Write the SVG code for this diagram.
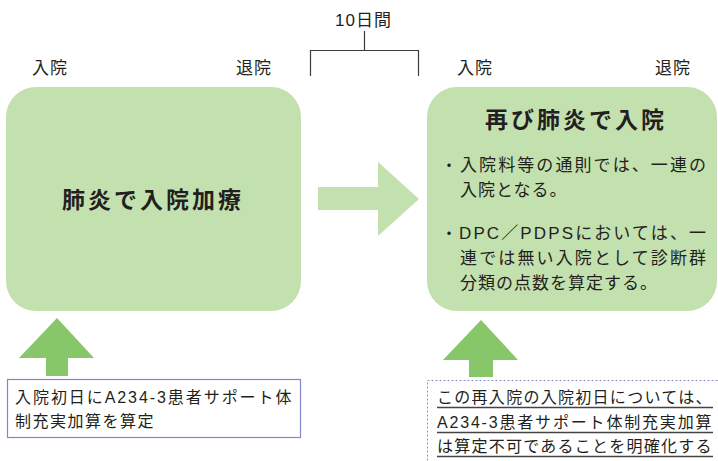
<svg xmlns="http://www.w3.org/2000/svg" width="718" height="461" viewBox="0 0 718 461">
<style>
text{font-family:"Liberation Sans","Noto Sans CJK JP",sans-serif;fill:#231f20}
.lbl{font-size:17px;letter-spacing:1px}
.ttl{font-size:23px;font-weight:bold;letter-spacing:3px}
.body{font-size:17px;letter-spacing:1px}
.bul{font-size:16px}
.note{font-size:16px;letter-spacing:1.5px}
.box{fill:#c3e0af}
.up{fill:#88c66a}
</style>
<rect width="718" height="461" fill="#fff"/>
<g id="labels">
<text class="lbl" x="32" y="74">入院</text>
<text class="lbl" x="236" y="74">退院</text>
<text class="lbl" x="457" y="74">入院</text>
<text class="lbl" x="655" y="74">退院</text>
<text class="lbl" x="335" y="26">10日間</text>
</g>
<g id="connectors" fill="none" stroke="#3c3c3c" stroke-width="1.2">
<path d="M364.5 31V50.5M310.5 76V50.5H418.5V76"/>
<polygon class="box" stroke="none" points="318,187 378,187 378,162 419,199 378,236 378,210 318,210"/>
<polygon class="up" stroke="none" points="57,318 94,358 68,358 68,376 46,376 46,358 19,358"/>
<polygon class="up" stroke="none" points="481,320 518,360 493,360 493,377 469,377 469,360 443,360"/>
</g>
<g id="node1">
<rect class="box" x="6" y="87" width="295" height="224" rx="30"/>
<text class="ttl" x="62" y="208">肺炎で入院加療</text>
</g>
<g id="node2">
<rect class="box" x="427" y="87" width="290" height="224" rx="30"/>
<text class="ttl" x="485" y="128">再び肺炎で入院</text>
<text class="bul" x="441" y="171">・</text>
<text class="body" x="460" y="171" textLength="247" lengthAdjust="spacing">入院料等の通則では、一連の</text>
<text class="body" x="460" y="196">入院となる。</text>
<text class="bul" x="441" y="239">・</text>
<text class="body" x="459" y="239" textLength="248" lengthAdjust="spacing">DPC／PDPSにおいては、一</text>
<text class="body" x="460" y="264" textLength="247" lengthAdjust="spacing">連では無い入院として診断群</text>
<text class="body" x="460" y="289">分類の点数を算定する。</text>
</g>
<g id="note1">
<rect x="7.5" y="379.5" width="293" height="58" fill="#fff" stroke="#7f87cf" stroke-width="1.2"/>
<text class="note" x="15" y="403" textLength="278" lengthAdjust="spacing">入院初日にA234-3患者サポート体</text>
<text class="note" x="15" y="427">制充実加算を算定</text>
</g>
<g id="note2">
<rect x="427.5" y="380.5" width="300" height="100" fill="#fff" stroke="#8a8fd0" stroke-width="1" stroke-dasharray="2 2"/>
<text class="note" x="437" y="403" textLength="276" lengthAdjust="spacing">この再入院の入院初日については、</text>
<text class="note" x="437" y="428" textLength="276" lengthAdjust="spacing">A234-3患者サポート体制充実加算</text>
<text class="note" x="437" y="452" textLength="276" lengthAdjust="spacing">は算定不可であることを明確化する</text>
<path d="M437 407.5H713M437 432.5H713M437 456.5H713" stroke="#444" stroke-width="1.5"/>
</g>
</svg>
